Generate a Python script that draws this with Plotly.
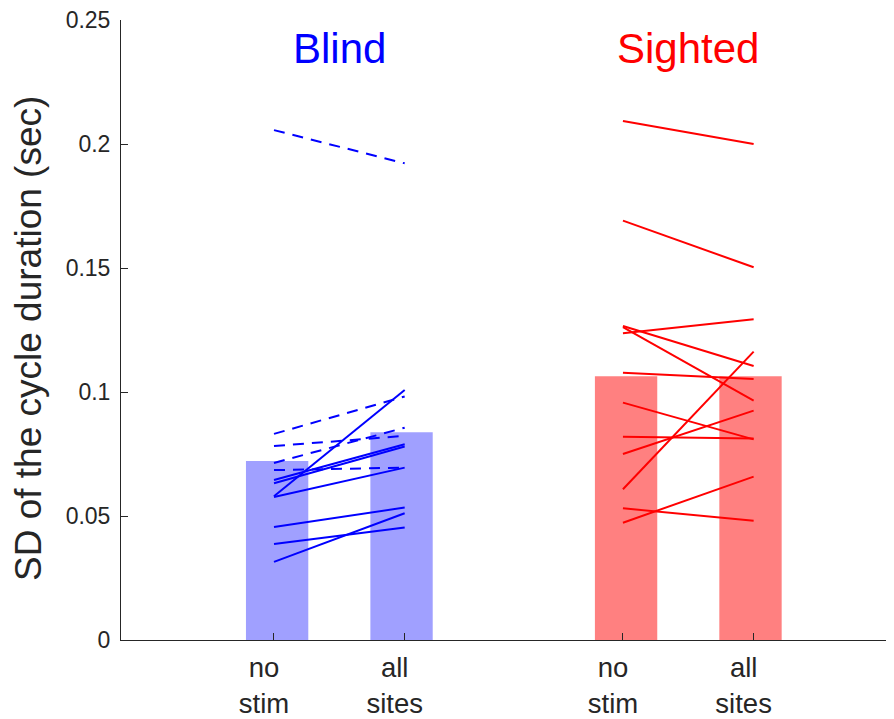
import numpy as np
import plotly.graph_objects as go

# ---- data ----
groups = ["Blind", "Sighted"]
conditions = ["no<br>stim", "all<br>sites"]
y_tick_values = [0, 0.05, 0.1, 0.15, 0.2, 0.25]
y_tick_labels = ["0", "0.05", "0.1", "0.15", "0.2", "0.25"]

blind_no_stim_dashed = [0.2056, 0.0831, 0.0782, 0.0714, 0.0685]
blind_all_sites_dashed = [0.1922, 0.0982, 0.0823, 0.0856, 0.0695]
blind_no_stim_solid = [0.0645, 0.0632, 0.0580, 0.0577, 0.0456, 0.0387, 0.0315]
blind_all_sites_solid = [0.0789, 0.0780, 0.1008, 0.0695, 0.0534, 0.0454, 0.0511]

sighted_no_stim = [0.2093, 0.1691, 0.1237, 0.1266, 0.1262, 0.1078,
                   0.0957, 0.0820, 0.0750, 0.0608, 0.0531, 0.0473]
sighted_all_sites = [0.2000, 0.1503, 0.1293, 0.1105, 0.0965, 0.1052,
                     0.0809, 0.0812, 0.0925, 0.1163, 0.0481, 0.0659]

# ---- layout / style constants ----
X_POS = {"Blind": [1.0, 2.0], "Sighted": [3.67, 4.67]}
BAR_INSET = 0.024
BAR_WIDTH = 0.477
FONT = "Liberation Sans, Arial, Helvetica, sans-serif"
AX_COLOR = "#262626"
BLUE, BLUE_BAR = "#0000FF", "#A0A0FF"
RED, RED_BAR = "#FF0000", "#FF8080"

fig = go.Figure()

blind_left = blind_no_stim_dashed + blind_no_stim_solid
blind_right = blind_all_sites_dashed + blind_all_sites_solid
means = {
    "Blind": [float(np.mean(blind_left)), float(np.mean(blind_right))],
    "Sighted": [float(np.mean(sighted_no_stim)), float(np.mean(sighted_all_sites))],
}
bar_cols = {"Blind": BLUE_BAR, "Sighted": RED_BAR}

for g in groups:
    xs = X_POS[g]
    fig.add_trace(go.Bar(
        x=[xs[0] + BAR_INSET, xs[1] - BAR_INSET], y=means[g],
        width=BAR_WIDTH, marker=dict(color=bar_cols[g], line=dict(width=0)),
        hoverinfo="skip", showlegend=False))

def add_pairs(left, right, xs, color, dash):
    for a, b in zip(left, right):
        fig.add_trace(go.Scatter(
            x=xs, y=[a, b], mode="lines",
            line=dict(color=color, width=2, dash=dash),
            hoverinfo="skip", showlegend=False))

add_pairs(blind_no_stim_dashed, blind_all_sites_dashed, X_POS["Blind"], BLUE, "11px,8px")
add_pairs(blind_no_stim_solid, blind_all_sites_solid, X_POS["Blind"], BLUE, "solid")
add_pairs(sighted_no_stim, sighted_all_sites, X_POS["Sighted"], RED, "solid")

tickvals = X_POS["Blind"] + X_POS["Sighted"]
ticktext = conditions + conditions

# page body has an 8px margin, so the figure is sized/offset to compensate
fig.update_layout(
    width=886, height=711,
    margin=dict(l=113, r=0, t=12, b=79),
    paper_bgcolor="white", plot_bgcolor="white",
    font=dict(family=FONT, color=AX_COLOR),
    barmode="overlay",
    showlegend=False,
    xaxis=dict(
        range=[-0.1706, 5.744], showgrid=False, zeroline=False,
        showline=True, linecolor=AX_COLOR, linewidth=1,
        ticks="inside", ticklen=7, tickcolor=AX_COLOR,
        tickvals=tickvals, ticktext=ticktext,
        tickfont=dict(size=27.5, color=AX_COLOR, family=FONT),
        ticklabelshift=-10, ticklabelstandoff=3, automargin=False,
        ticklabeloverflow="allow",
    ),
    yaxis=dict(
        range=[0, 0.25], showgrid=False, zeroline=False,
        showline=True, linecolor=AX_COLOR, linewidth=1,
        ticks="inside", ticklen=7, tickcolor=AX_COLOR,
        tickvals=y_tick_values, ticktext=y_tick_labels,
        tickfont=dict(size=23, color=AX_COLOR, family=FONT),
        ticklabelstandoff=5, automargin=False,
        ticklabeloverflow="allow",
    ),
)

fig.add_annotation(x=sum(X_POS["Blind"]) / 2, y=0.2387, xref="x", yref="y",
                   text="Blind", showarrow=False,
                   font=dict(size=42, color=BLUE, family=FONT),
                   xanchor="center", yanchor="middle")
fig.add_annotation(x=sum(X_POS["Sighted"]) / 2, y=0.2387, xref="x", yref="y",
                   text="Sighted", showarrow=False,
                   font=dict(size=42, color=RED, family=FONT),
                   xanchor="center", yanchor="middle")
fig.add_annotation(x=(28 - 121) / 773, y=(640 - 339) / 620, xref="paper", yref="paper",
                   text="SD of the cycle duration (sec)", textangle=-90, showarrow=False,
                   font=dict(size=37, color=AX_COLOR, family=FONT),
                   xanchor="center", yanchor="middle")

fig.write_html("out.html")
